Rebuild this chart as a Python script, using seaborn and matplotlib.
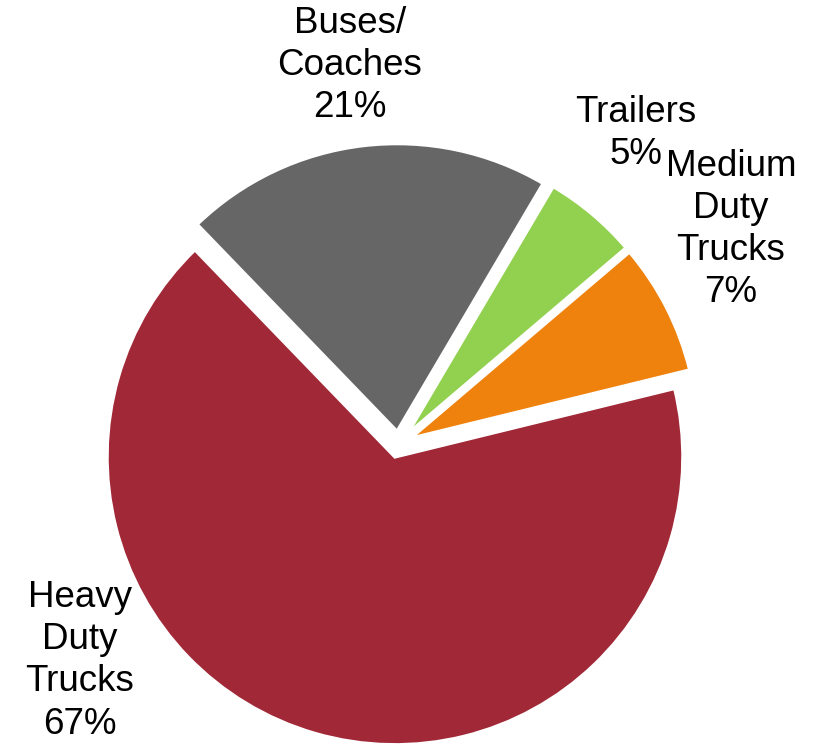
import matplotlib
matplotlib.use("Agg")
import matplotlib.pyplot as plt
import seaborn as sns

# ---- data ----
categories = ["Heavy\nDuty\nTrucks", "Medium\nDuty\nTrucks", "Trailers", "Buses/\nCoaches"]
shares = [66.6, 7.4, 5.3, 20.7]
colors_hex = ["#A02837", "#EF820D", "#92D050", "#666666"]

# ---- style ----
sns.set_style("white")
plt.rcParams["font.family"] = ["Liberation Sans", "DejaVu Sans"]

palette = sns.color_palette(colors_hex)
explode = [0.045, 0.045, 0.045, 0.045]

fig = plt.figure(figsize=(8.13, 7.5), dpi=100)
ax = fig.add_axes([0, 0, 1, 1])
ax.pie(shares, colors=palette, explode=explode, startangle=134,
       counterclock=True, radius=1.0,
       wedgeprops=dict(edgecolor="white", linewidth=2.5))

ax.set_aspect("equal")
ax.set_xlim(-1.384, 1.439)
ax.set_ylim(-1.061, 1.543)
ax.axis("off")

label_pos = [(-1.106, -0.752), (1.154, 0.746), (0.824, 1.080), (-0.169, 1.316)]
for name, v, (x, y) in zip(categories, shares, label_pos):
    ax.text(x, y, f"{name}\n{round(v)}%", ha="center", va="center",
            fontsize=26.5, linespacing=1.26, color="black")

fig.savefig("out.png", dpi=100)
